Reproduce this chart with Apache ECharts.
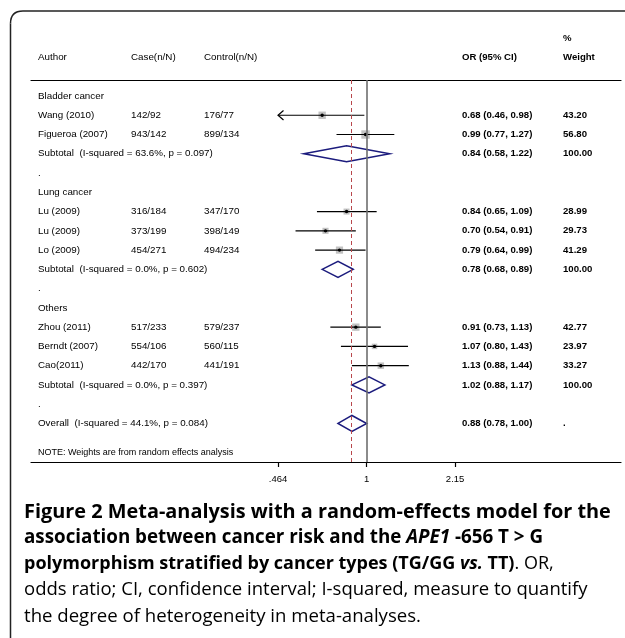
<!DOCTYPE html>
<html>
<head>
<meta charset="utf-8">
<script src="https://cdn.jsdelivr.net/npm/echarts@6/dist/echarts.min.js"></script>
<style>
html, body { margin: 0; padding: 0; background: #fff; }
#forest { width: 625px; height: 638px; }
</style>
</head>
<body>
<div id="forest"></div>
<script>
var forestChart = echarts.init(document.getElementById('forest'));

// table text, one entry per row
var authors = ['Bladder cancer', 'Wang (2010)', 'Figueroa (2007)', 'Subtotal  (I-squared = 63.6%, p = 0.097)', '.',
    'Lung cancer', 'Lu (2009)', 'Lu (2009)', 'Lo (2009)', 'Subtotal  (I-squared = 0.0%, p = 0.602)', '.',
    'Others', 'Zhou (2011)', 'Berndt (2007)', 'Cao(2011)', 'Subtotal  (I-squared = 0.0%, p = 0.397)', '.',
    'Overall  (I-squared = 44.1%, p = 0.084)'];
var cases = ['', '142/92', '943/142', '', '', '', '316/184', '373/199', '454/271', '', '', '', '517/233', '554/106', '442/170', '', '', ''];
var controls = ['', '176/77', '899/134', '', '', '', '347/170', '398/149', '494/234', '', '', '', '579/237', '560/115', '441/191', '', '', ''];
var orLabels = ['', '0.68 (0.46, 0.98)', '0.99 (0.77, 1.27)', '0.84 (0.58, 1.22)', '', '', '0.84 (0.65, 1.09)', '0.70 (0.54, 0.91)',
    '0.79 (0.64, 0.99)', '0.78 (0.68, 0.89)', '', '', '0.91 (0.73, 1.13)', '1.07 (0.80, 1.43)', '1.13 (0.88, 1.44)', '1.02 (0.88, 1.17)', '', '0.88 (0.78, 1.00)'];
var weightLabels = ['', '43.20', '56.80', '100.00', '', '', '28.99', '29.73', '41.29', '100.00', '', '', '42.77', '23.97', '33.27', '100.00', '', '.'];
var headerTop = ['', '', '', '', '%'];
var headerMain = ['Author', 'Case(n/N)', 'Control(n/N)', 'OR (95% CI)', 'Weight'];
var noteText = 'NOTE: Weights are from random effects analysis';

// single studies
var studyRows = [1, 2, 6, 7, 8, 12, 13, 14];
var studyOR = [0.68, 0.99, 0.84, 0.70, 0.79, 0.91, 1.07, 1.13];
var studyLow = [0.46, 0.77, 0.65, 0.54, 0.64, 0.73, 0.80, 0.88];
var studyHigh = [0.98, 1.27, 1.09, 0.91, 0.99, 1.13, 1.43, 1.44];
var studyWeight = [43.20, 56.80, 28.99, 29.73, 41.29, 42.77, 23.97, 33.27];

// pooled estimates (subtotals + overall)
var poolRows = [3, 9, 15, 17];
var poolOR = [0.84, 0.78, 1.02, 0.88];
var poolLow = [0.58, 0.68, 0.88, 0.78];
var poolHigh = [1.22, 0.89, 1.17, 1.00];
var overallOR = 0.88;

// x axis ticks (OR scale)
var tickValues = [0.464, 1, 2.15];
var tickLabels = ['.464', '1', '2.15'];

// caption lines
var captionLines = [
    '{b|Figure 2 Meta-analysis with a random-effects model for the}',
    '{b|association between cancer risk and the }{bi|APE1}{b| -656 T > G}',
    '{b|polymorphism stratified by cancer types (TG/GG }{bi|vs.}{b| TT)}{r|. OR,}',
    '{r|odds ratio; CI, confidence interval; I-squared, measure to quantify}',
    '{r|the degree of heterogeneity in meta-analyses.}'
];

// layout
var colX = [38, 131, 204, 462, 563];
var captionSize = [19.9, 18.8, 18.0, 18.5, 18.6];
var tableFont = '"Liberation Sans", Arial, sans-serif';
var lnClip = Math.log(tickValues[0]);

// text rows: headers above the grid, body rows, note near the axis
var textRows = [];
textRows.push({ row: -3, cells: headerTop });
textRows.push({ row: -2, cells: headerMain });
authors.forEach(function (a, i) {
    textRows.push({ row: i, cells: [a, cases[i], controls[i], orLabels[i], weightLabels[i]] });
});
textRows.push({ row: 18.5, cells: [noteText, '', '', '', ''], small: true });

var studyData = studyRows.map(function (r, i) {
    return [Math.log(studyOR[i]), r, Math.log(studyLow[i]), Math.log(studyHigh[i]), studyWeight[i]];
});
var poolData = poolRows.map(function (r, i) {
    return [Math.log(poolOR[i]), r, Math.log(poolLow[i]), Math.log(poolHigh[i])];
});

var xMin = -2.9065, xMax = 2.2017;

function captionRich(size) {
    var fam = '"Open Sans", "Noto Sans", sans-serif';
    return {
        b: { fontFamily: fam, fontSize: size, fontWeight: 'bold', color: '#231f20', lineHeight: 26 },
        bi: { fontFamily: fam, fontSize: size, fontWeight: 'bold', fontStyle: 'italic', color: '#231f20', lineHeight: 26 },
        r: { fontFamily: fam, fontSize: size, color: '#58595b', lineHeight: 26 }
    };
}

var frameStyle = { stroke: '#222', lineWidth: 1.5, fill: null };

var graphics = [
    { type: 'polyline', shape: { points: [[625, 11], [23, 11]] }, style: frameStyle },
    { type: 'bezierCurve', shape: { x1: 23, y1: 11, cpx1: 10.5, cpy1: 11, x2: 10.5, y2: 23.5 }, style: frameStyle },
    { type: 'polyline', shape: { points: [[10.5, 23.5], [10.5, 638]] }, style: frameStyle }
];
captionLines.forEach(function (line, i) {
    graphics.push({
        type: 'text', left: 24, top: 502 + i * 26.2,
        style: { text: line, rich: captionRich(captionSize[i]) }
    });
});

var option = {
    animation: false,
    grid: { left: 31, right: 4, top: 80, bottom: 176 },
    xAxis: [
        {
            type: 'value',
            min: xMin,
            max: xMax,
            position: 'bottom',
            splitLine: { show: false },
            axisLine: { onZero: false, lineStyle: { color: '#000', width: 1.2 } },
            axisTick: {
                length: 5,
                lineStyle: { color: '#000', width: 1.2 },
                customValues: tickValues.map(function (v) { return Math.log(v); })
            },
            axisLabel: {
                margin: 12,
                fontSize: 9.5,
                fontFamily: tableFont,
                color: '#000',
                customValues: tickValues.map(function (v) { return Math.log(v); }),
                formatter: function (v) {
                    for (var i = 0; i < tickValues.length; i++) {
                        if (Math.abs(Math.log(tickValues[i]) - v) < 1e-6) return tickLabels[i];
                    }
                    return '';
                }
            }
        },
        {
            // header rule
            type: 'value',
            min: xMin,
            max: xMax,
            position: 'top',
            splitLine: { show: false },
            axisTick: { show: false },
            axisLabel: { show: false },
            axisLine: { onZero: false, lineStyle: { color: '#000', width: 1.2 } }
        }
    ],
    yAxis: {
        type: 'value',
        inverse: true,
        min: -0.83,
        max: 19,
        show: false
    },
    graphic: graphics,
    series: [
        {
            // reference lines at OR = 1 and overall estimate
            type: 'line',
            data: [],
            markLine: {
                silent: true,
                symbol: 'none',
                label: { show: false },
                data: [
                    { xAxis: 0, lineStyle: { color: '#6e6e6e', width: 1.6, type: 'solid' } },
                    { xAxis: Math.log(overallOR), lineStyle: { color: '#b8474c', width: 1, type: [4, 3] } }
                ]
            }
        },
        {
            name: 'studies',
            type: 'custom',
            data: studyData,
            encode: { x: [0, 2, 3], y: 1 },
            renderItem: function (params, api) {
                var row = api.value(1);
                var est = api.coord([api.value(0), row]);
                var cut = api.value(2) < lnClip;
                var lo = api.coord([cut ? lnClip : api.value(2), row]);
                var hi = api.coord([api.value(3), row]);
                var s = Math.sqrt(api.value(4)) * 1.12;
                var children = [
                    { type: 'rect', shape: { x: est[0] - s / 2, y: est[1] - s / 2, width: s, height: s }, style: { fill: '#c2c2c2' } },
                    { type: 'line', shape: { x1: lo[0], y1: lo[1], x2: hi[0], y2: hi[1] }, style: { stroke: '#000', lineWidth: 1.2 } },
                    { type: 'circle', shape: { cx: est[0], cy: est[1], r: 1.7 }, style: { fill: '#000' } }
                ];
                if (cut) {
                    children.push({
                        type: 'polyline',
                        shape: { points: [[lo[0] + 5.5, lo[1] - 4.7], [lo[0], lo[1]], [lo[0] + 5.5, lo[1] + 4.7]] },
                        style: { stroke: '#000', lineWidth: 1.2, fill: null }
                    });
                }
                return { type: 'group', children: children };
            }
        },
        {
            name: 'pooled',
            type: 'custom',
            data: poolData,
            encode: { x: [0, 2, 3], y: 1 },
            renderItem: function (params, api) {
                var row = api.value(1);
                var est = api.coord([api.value(0), row]);
                var lo = api.coord([api.value(2), row]);
                var hi = api.coord([api.value(3), row]);
                var h = 8;
                return {
                    type: 'polygon',
                    shape: { points: [[lo[0], lo[1]], [est[0], est[1] - h], [hi[0], hi[1]], [est[0], est[1] + h]] },
                    style: { stroke: '#1b1b7d', lineWidth: 1.5, fill: 'rgba(0,0,0,0)' }
                };
            }
        },
        {
            name: 'table',
            type: 'custom',
            data: textRows.map(function (t) { return [0, t.row]; }),
            encode: { x: 0, y: 1 },
            renderItem: function (params, api) {
                var t = textRows[params.dataIndex];
                var y = api.coord([0, api.value(1)])[1];
                return {
                    type: 'group',
                    children: t.cells.map(function (c, k) {
                        return {
                            type: 'text',
                            x: colX[k],
                            y: y,
                            style: {
                                text: c,
                                fontFamily: tableFont,
                                fontSize: t.small ? 9 : (k >= 3 ? 9.6 : 9.8),
                                fontWeight: k >= 3 ? 'bold' : 'normal',
                                fill: '#000',
                                verticalAlign: 'middle'
                            }
                        };
                    })
                };
            }
        }
    ]
};

forestChart.setOption(option);

window.addEventListener('resize', function () {
    forestChart.resize();
});
</script>
</body>
</html>
